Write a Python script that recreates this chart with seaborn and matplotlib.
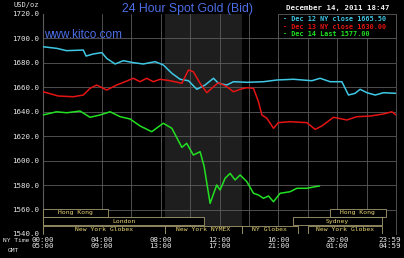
import matplotlib
matplotlib.use("Agg")
import matplotlib.pyplot as plt
from matplotlib.patches import Rectangle
from matplotlib.transforms import ScaledTranslation
import seaborn as sns
import pandas as pd

# ---------------- data ----------------
cyan_hours = [0, 0.93, 1.6, 2.74, 2.93, 3.42, 4.0, 4.33, 4.9, 5.46, 6.14, 6.82, 7.62, 8.18,
              8.76, 9.32, 9.89, 10.46, 11.02, 11.59, 11.93, 12.5, 12.95, 13.86, 14.99, 15.9,
              17.03, 18.28, 18.84, 19.52, 20.32, 20.77, 21.22, 21.56, 22.02, 22.59, 23.15, 24.0]
cyan_price = [1693.2, 1691.9, 1690.0, 1690.5, 1685.6, 1687.3, 1688.4, 1683.7, 1679.1, 1681.8,
              1680.2, 1679.1, 1681.0, 1678.3, 1671.5, 1666.6, 1665.4, 1658.4, 1661.9, 1667.4,
              1663.3, 1661.9, 1664.6, 1664.1, 1664.6, 1666.0, 1666.6, 1665.4, 1667.4, 1664.6,
              1664.6, 1653.7, 1655.1, 1658.4, 1655.6, 1653.7, 1655.6, 1655.1]

red_hours = [0, 1.04, 2.06, 2.74, 3.2, 3.65, 4.33, 5.01, 5.58, 6.14, 6.6, 7.05, 7.5, 7.96,
             8.64, 9.44, 9.89, 10.22, 10.68, 11.14, 11.59, 11.93, 12.5, 12.95, 13.4, 13.86,
             14.31, 14.65, 14.88, 15.22, 15.67, 16.0, 16.8, 17.94, 18.5, 18.96, 19.75, 20.66,
             21.34, 22.24, 23.15, 23.72, 24.0]
red_price = [1656.4, 1652.9, 1652.3, 1653.7, 1659.2, 1661.9, 1657.8, 1661.9, 1664.6, 1667.4,
             1664.6, 1667.4, 1664.6, 1666.6, 1665.4, 1663.3, 1674.2, 1672.8, 1663.3, 1655.6,
             1660.5, 1663.8, 1660.5, 1656.4, 1658.4, 1659.7, 1659.2, 1648.2, 1637.4, 1634.7,
             1626.5, 1631.1, 1631.9, 1631.1, 1625.6, 1628.4, 1635.5, 1633.3, 1636.0, 1636.5,
             1638.2, 1640.0, 1637.4]

green_hours = [0, 0.93, 1.61, 2.52, 3.2, 3.88, 4.56, 5.24, 5.92, 6.6, 7.39, 8.18, 8.76, 9.44,
               9.77, 10.22, 10.68, 10.95, 11.36, 11.81, 12.04, 12.38, 12.72, 13.06, 13.4, 13.86,
               14.31, 14.65, 14.99, 15.33, 15.67, 16.12, 16.8, 17.26, 17.94, 18.5, 18.8]
green_price = [1637.4, 1640.0, 1639.2, 1640.6, 1635.5, 1637.4, 1640.0, 1636.0, 1634.1, 1628.4,
               1623.7, 1630.6, 1626.5, 1610.9, 1614.2, 1604.6, 1607.3, 1595.6, 1565.1, 1580.1,
               1576.0, 1585.6, 1589.6, 1584.2, 1588.3, 1582.8, 1573.3, 1571.9, 1569.2, 1571.1,
               1566.4, 1573.3, 1574.6, 1577.4, 1577.4, 1578.7, 1579.3]

series_names = ["Dec 12 NY close 1665.50", "Dec 13 NY close 1630.00", "Dec 14 Last 1577.00"]
series_colors = ["#3fc8e4", "#e41414", "#22e022"]

y_ticks = [1540, 1560, 1580, 1600, 1620, 1640, 1660, 1680, 1700, 1720]
x_ticks = [0, 4, 8, 12, 16, 20, 24]
ny_labels = ["00:00", "04:00", "08:00", "12:00", "16:00", "20:00", "23:59"]
gmt_labels = ["05:00", "09:00", "13:00", "17:00", "21:00", "01:00", "04:59"]

# trading sessions: name, start hour, end hour, row (0 = top)
session_names = ["Hong Kong", "Hong Kong", "London", "Sydney", "New York Globex",
                 "New York NYMEX", "NY Globex", "New York Globex"]
session_start = [0, 19.5, 0, 17.0, 0, 8.3, 13.5, 18.0]
session_end = [4.42, 23.3, 10.95, 23.05, 8.3, 13.5, 17.35, 23.05]
session_row = [0, 0, 1, 1, 2, 2, 2, 2]

ny_shade = (8.3, 13.55)

# ---------------- plot ----------------
frames = []
for name, h, p in zip(series_names, [cyan_hours, red_hours, green_hours],
                      [cyan_price, red_price, green_price]):
    frames.append(pd.DataFrame({"hour": h, "price": p, "series": name}))
df = pd.concat(frames, ignore_index=True)

sns.set_theme(style="dark")
plt.rcParams["font.family"] = ["DejaVu Sans Mono"]

W, H = 404, 258
fig = plt.figure(figsize=(W / 100, H / 100), dpi=100, facecolor="black")
x0, x1, ytop, ybot = 43, 396, 14, 234
ax = fig.add_axes([x0 / W, (H - ybot) / H, (x1 - x0) / W, (ybot - ytop) / H])
ax.set_facecolor("black")
ax.set_xlim(0, 24)
ax.set_ylim(1540, 1720)

grid_c = "#5c5c5c"
ax.axvspan(ny_shade[0], ny_shade[1], color="#1e1e1e", zorder=0, lw=0)
for yv in y_ticks[1:-1]:
    ax.axhline(yv, color=grid_c, lw=0.6, zorder=1)
for xv in [4, 6, 8, 10, 12, 14, 16, 18, 20, 22]:
    ax.axvline(xv, color=grid_c, lw=0.6, zorder=1)

sns.lineplot(data=df, x="hour", y="price", hue="series", palette=dict(zip(series_names, series_colors)),
             estimator=None, sort=False, legend=False, lw=1.1, ax=ax, zorder=3)

for s in ax.spines.values():
    s.set_visible(False)
for side, lw in (("left", 0.8), ("right", 0.6)):
    ax.spines[side].set_visible(True)
    ax.spines[side].set_color(grid_c)
    ax.spines[side].set_linewidth(lw)

ax.set_xlabel("")
ax.set_ylabel("")
ax.set_yticks(y_ticks)
ax.set_yticklabels([f"{v:.1f}" for v in y_ticks])
ax.set_xticks(x_ticks)
ax.set_xticklabels([f"{a}\n{b}" for a, b in zip(ny_labels, gmt_labels)], linespacing=1.05)
ax.tick_params(axis="y", length=0, pad=3, labelsize=5.4, labelcolor="#e6e6e6")
ax.tick_params(axis="x", length=0, pad=2, labelsize=5.4, labelcolor="#e6e6e6")
last = ax.get_xticklabels()[-1]
last.set_transform(last.get_transform() + ScaledTranslation(-6 / 100, 0, fig.dpi_scale_trans))

# session boxes
row_tops = [1560.4, 1553.6, 1546.8]
row_h = 6.4
for name, s, e, r in zip(session_names, session_start, session_end, session_row):
    yb = row_tops[r] - row_h
    ax.add_patch(Rectangle((s, yb), e - s, row_h, facecolor="black", edgecolor="#a49c70",
                           lw=0.6, zorder=4))
    ax.text((s + e) / 2, yb + row_h / 2, name, color="#e8d472", fontsize=4.6,
            ha="center", va="center", zorder=5)

# legend box
ax.add_patch(Rectangle((16.0, 1700), 8.0, 20, facecolor="black", edgecolor=grid_c,
                       lw=0.6, zorder=4, clip_on=False))
for i, (name, c) in enumerate(zip(series_names, series_colors)):
    ax.text(16.3, 1715.5 - i * 6.1, "- " + name, color=c, fontsize=4.85,
            ha="left", va="center", zorder=5, fontweight="bold")

# texts
ax.text(0.05, 1702.5, "www.kitco.com", color="#4c6ee6", fontsize=8.5,
        family="Liberation Sans", ha="left", va="center", zorder=5)
fig.text(188 / W, 1 - 9 / H, "24 Hour Spot Gold (Bid)", color="#4c6ee6", fontsize=8.8,
         family="Liberation Sans", ha="center", va="center")
fig.text(13 / W, 1 - 5 / H, "USD/oz", color="#e6e6e6", fontsize=5, ha="left", va="center")
fig.text(389 / W, 1 - 8 / H, "December 14, 2011 18:47", color="#f0f0f0", fontsize=5.3,
         ha="right", va="center", fontweight="bold")
fig.text(3 / W, 1 - 241 / H, "NY Time", color="#e6e6e6", fontsize=4.5, ha="left", va="center")
fig.text(8 / W, 1 - 251 / H, "GMT", color="#e6e6e6", fontsize=4.5, ha="left", va="center")

fig.savefig("out.png", dpi=100, facecolor="black")
